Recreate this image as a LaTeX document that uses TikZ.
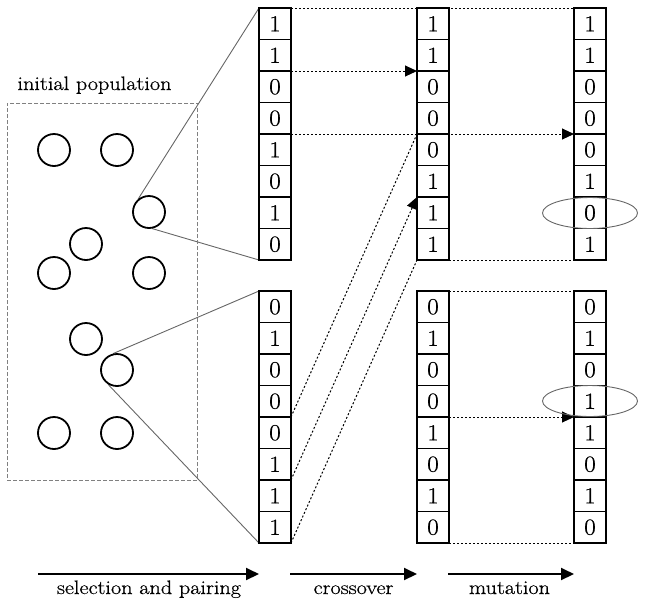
\documentclass[tikz,border=0pt]{standalone}
\usepackage{fontspec}
\usepackage{graphicx}
\usetikzlibrary{arrows.meta,shapes.geometric,backgrounds}
\newfontfamily\darkrm{Latin Modern Roman}[FakeBold=0.6]
\newfontfamily\darkerrm{Latin Modern Roman}[FakeBold=1.3]
\tikzset{
  cell/.style={draw, line width=1.3pt, fill=white, minimum width=32pt, minimum height=31.5pt,
    inner sep=0pt, outer sep=0pt, font=\darkrm\fontsize{23}{27}\selectfont},
  colframe/.style={draw, line width=2.2pt},
  ind/.style={circle, draw, line width=1.8pt, minimum size=32pt, inner sep=0pt},
  link/.style={draw=black!60, line width=0.9pt},
  popbox/.style={draw=black!50, dash pattern=on 4pt off 2pt, line width=1pt, inner sep=0pt},
  dots/.style={line width=1pt, dash pattern=on 2pt off 2pt},
  arrowed/.style={-{Triangle[length=12pt,width=11pt]}},
  ell/.style={ellipse, draw=black!60, line width=0.9pt, minimum width=95pt, minimum height=31pt, inner sep=0pt},
  flow/.style={line width=2pt, -{Triangle[length=13pt,width=12pt]}},
  lab/.style={anchor=base, inner sep=0pt, font=\darkrm\fontsize{19.5}{23}\selectfont},
}
\newcommand\wide[1]{\scalebox{1.14}[1]{#1}}
\newcommand\gacol[4]{%
  \foreach \v [count=\i] in {#4} {
    \node[cell] (#1r\i) at ({#2},{#3+\i*31.5-15.75}) {\scalebox{1.1}[1]{\v}};
  }
  \draw[colframe] (#1r1.north west) rectangle (#1r8.south east);
}
\begin{document}
\begin{tikzpicture}[x=1pt,y=-1pt]
\useasboundingbox (0,0) rectangle (645,606);

% population
\node[lab] (title) at (94.5,90) {\wide{initial population}};
\node[popbox, minimum width=190pt, minimum height=377pt] (pop) at (102,291.5) {};
\node[ind] (c1) at (54,150) {};
\node[ind] (c2) at (117,150) {};
\node[ind] (c3) at (149,212) {};
\node[ind] (c4) at (86,244) {};
\node[ind] (c5) at (54,273) {};
\node[ind] (c6) at (149,273) {};
\node[ind] (c7) at (86,339) {};
\node[ind] (c8) at (117,370) {};
\node[ind] (c9) at (54,433) {};
\node[ind] (c10) at (117,433) {};

% chromosomes
\gacol{T1}{275}{8}{1,1,0,0,1,0,1,0}
\gacol{T2}{433}{8}{1,1,0,0,0,1,1,1}
\gacol{T3}{590}{8}{1,1,0,0,0,1,{\darkerrm 0},1}
\gacol{B1}{275}{291}{0,1,0,0,0,1,1,1}
\gacol{B2}{433}{291}{0,1,0,0,1,0,1,0}
\gacol{B3}{590}{291}{0,1,0,{\darkerrm 1},1,0,1,0}

% mutation marks
\node[ell] (e1) at (590,213) {};
\node[ell] (e2) at (590,401) {};

\begin{scope}[on background layer]
  % selection lines
  \draw[link] (c3.130) -- (T1r1.north west);
  \draw[link] (c3.-79) -- (T1r8.south west);
  \draw[link] (c8.103) -- (B1r1.north west);
  \draw[link] (c8.238) -- (B1r8.south west);
  % top block
  \draw[dots] (T1r1.north east) -- (T3r1.north west);
  \draw[dots, arrowed] (T1r2.south east) -- (T2r2.south west);
  \draw[dots, arrowed] (T1r4.south east) -- (T3r4.south west);
  \draw[dots] (T2r8.south east) -- (T3r8.south west);
  % crossover from bottom parent
  \draw[dots] (B1r4.south east) -- (T2r4.south west);
  \draw[dots, arrowed] (B1r6.south east) -- (T2r6.south west);
  \draw[dots] (B1r8.south east) -- (T2r8.south west);
  % bottom block
  \draw[dots] (B2r1.north east) -- (B3r1.north west);
  \draw[dots, arrowed] (B2r4.south east) -- (B3r4.south west);
  \draw[dots] (B2r8.south east) -- (B3r8.south west);
\end{scope}

% stage arrows
\coordinate (s1a) at (38,574);  \coordinate (s1b) at (259,574);
\coordinate (s2a) at (290,574); \coordinate (s2b) at (417,574);
\coordinate (s3a) at (448,574); \coordinate (s3b) at (574,574);
\draw[flow] (s1a) -- (s1b);
\draw[flow] (s2a) -- (s2b);
\draw[flow] (s3a) -- (s3b);
\node[lab] (l1) at (149,594) {\wide{selection and pairing}};
\node[lab] (l2) at (353.5,594) {\wide{crossover}};
\node[lab] (l3) at (509.5,594) {\wide{mutation}};
\end{tikzpicture}
\end{document}
